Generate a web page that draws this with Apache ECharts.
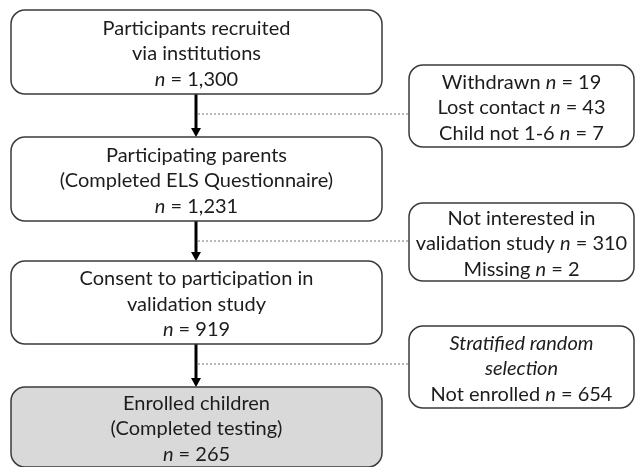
<!DOCTYPE html>
<html><head><meta charset="utf-8">
<script src="https://cdn.jsdelivr.net/npm/echarts@6/dist/echarts.min.js"></script>
<style>html,body{margin:0;padding:0;background:#fff}#c{width:636px;height:467px}</style>
</head><body><div id="c"></div>
<script>
// ---- data ----
const stepTitles = [
  ['Participants recruited', 'via institutions'],
  ['Participating parents', '(Completed ELS Questionnaire)'],
  ['Consent to participation in', 'validation study'],
  ['Enrolled children', '(Completed testing)']
];
const stepCounts = [1300, 1231, 919, 265];
const exclusionHeadings = [[], [], ['Stratified random', 'selection']];
const exclusionReasons = [
  ['Withdrawn', 'Lost contact', 'Child not 1-6'],
  ['Not interested in\nvalidation study', 'Missing'],
  ['Not enrolled']
];
const exclusionCounts = [[19, 43, 7], [310, 2], [654]];

// ---- layout (pixel space of the hidden axes) ----
const layout = {
  mainX: [11, 382],
  mainY: [[10, 94], [137, 221], [261, 344], [387, 467]],
  sideX: [409, 634],
  sideY: [[65, 147], [203, 281], [326, 408]],
  arrowX: 196,
  dashY: [114, 241, 364],
  textShift: 2,
  lineH: 25.5
};
const FONT = 'Lato, "Open Sans", sans-serif';
const FS = 20;
const fmt = v => v.toLocaleString('en-US');
const rich = {
  t: { fontSize: FS, fontFamily: FONT, fill: '#1c1c1c', lineHeight: layout.lineH },
  i: { fontSize: FS, fontFamily: FONT, fill: '#1c1c1c', lineHeight: layout.lineH, fontStyle: 'italic' }
};

function mainText(i) {
  return stepTitles[i].map(l => '{t|' + l + '}').join('\n') + '\n{i|n}{t| = ' + fmt(stepCounts[i]) + '}';
}
function sideText(i) {
  const lines = exclusionHeadings[i].map(l => '{i|' + l + '}');
  exclusionReasons[i].forEach((r, k) => {
    const parts = r.split('\n');
    parts.forEach((p, j) => {
      if (j < parts.length - 1) lines.push('{t|' + p + '}');
      else lines.push('{t|' + p + ' }{i|n}{t| = ' + fmt(exclusionCounts[i][k]) + '}');
    });
  });
  return lines.join('\n');
}

const chart = echarts.init(document.getElementById('c'), null, { renderer: 'canvas' });

function boxEl(api, x0, x1, y0, y1, fill, text) {
  const p0 = api.coord([x0, y0]), p1 = api.coord([x1, y1]);
  const cy = (p0[1] + p1[1]) / 2 + layout.textShift;
  return [{
    type: 'rect',
    shape: { x: p0[0], y: p0[1], width: p1[0] - p0[0], height: p1[1] - p0[1], r: 14 },
    style: { fill: fill, stroke: '#3a3a3a', lineWidth: 1.5 }
  }, {
    type: 'text', x: (p0[0] + p1[0]) / 2, y: cy,
    style: { text: text, rich: rich, align: 'center', verticalAlign: 'middle',
      fontSize: FS, fontFamily: FONT, fill: '#1c1c1c', lineHeight: layout.lineH }
  }];
}

chart.setOption({
  animation: false,
  grid: { left: 0, right: 0, top: 0, bottom: 0 },
  xAxis: { type: 'value', min: 0, max: 636, show: false },
  yAxis: { type: 'value', min: 0, max: 467, inverse: true, show: false },
  series: [
    { // connectors
      type: 'custom', silent: true, z: 1,
      data: stepCounts.slice(0, -1).map((v, i) => [i, v]),
      renderItem: function (params, api) {
        const i = api.value(0);
        const a = api.coord([layout.arrowX, layout.mainY[i][1]]);
        const b = api.coord([layout.arrowX, layout.mainY[i + 1][0]]);
        const d0 = api.coord([layout.arrowX, layout.dashY[i]]);
        const d1 = api.coord([layout.sideX[0], layout.dashY[i]]);
        return { type: 'group', children: [
          { type: 'line', shape: { x1: d0[0] + 2, y1: d0[1], x2: d1[0], y2: d1[1] },
            style: { stroke: '#777', lineWidth: 1, lineDash: [2, 2] } },
          { type: 'line', shape: { x1: a[0], y1: a[1], x2: b[0], y2: b[1] - 7 },
            style: { stroke: '#000', lineWidth: 3 } },
          { type: 'polygon', shape: { points: [[b[0] - 5, b[1] - 9], [b[0] + 5, b[1] - 9], [b[0], b[1]]] },
            style: { fill: '#000' } }
        ]};
      }
    },
    { // main boxes
      type: 'custom', silent: true, z: 2,
      data: stepCounts.map((v, i) => [i, v]),
      renderItem: function (params, api) {
        const i = api.value(0);
        const fill = i === stepCounts.length - 1 ? '#d9d9d9' : '#fff';
        return { type: 'group', children: boxEl(api, layout.mainX[0], layout.mainX[1],
          layout.mainY[i][0], layout.mainY[i][1], fill, mainText(i)) };
      }
    },
    { // exclusion boxes
      type: 'custom', silent: true, z: 2,
      data: exclusionCounts.map((c, i) => [i, c[c.length - 1]]),
      renderItem: function (params, api) {
        const i = api.value(0);
        return { type: 'group', children: boxEl(api, layout.sideX[0], layout.sideX[1],
          layout.sideY[i][0], layout.sideY[i][1], '#fff', sideText(i)) };
      }
    }
  ]
});
</script></body></html>
